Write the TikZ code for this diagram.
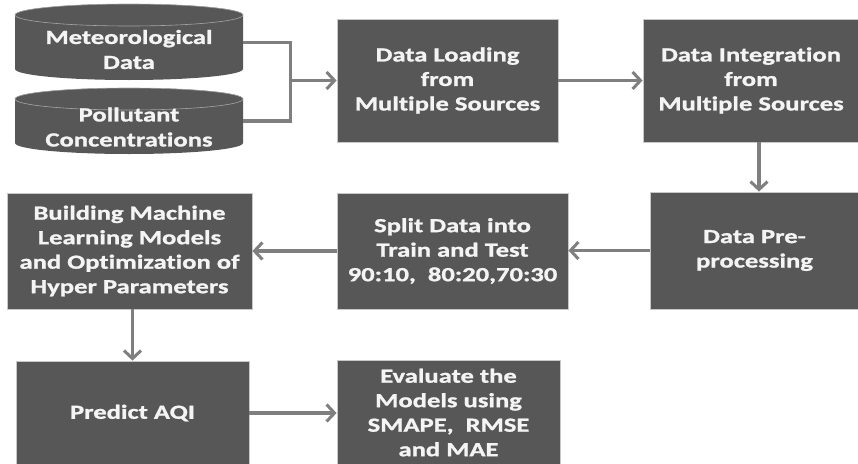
\documentclass[tikz,border=0pt]{standalone}
\usepackage{fontspec}
\usetikzlibrary{arrows.meta}
\newfontfamily\boxfont{Carlito}[FakeStretch=1.33, FakeBold=1.2, Ligatures=NoCommon]
\definecolor{boxfill}{HTML}{575757}
\definecolor{boxedge}{HTML}{C8C8C8}
\definecolor{flow}{HTML}{7F7F7F}
\definecolor{labelwhite}{HTML}{F4F4F4}
\tikzset{
  x=1pt, y=1pt,
  stepbox/.style={draw=boxedge, line width=0.8pt, fill=boxfill, text=labelwhite,
    font=\boxfont\bfseries\fontsize{20}{24.5}\selectfont, align=center, inner sep=0pt},
  cyltext/.style={text=labelwhite, font=\boxfont\bfseries\fontsize{20}{25}\selectfont,
    align=center, inner sep=0pt},
  cylbody/.style={inner sep=0pt, minimum width=228pt, minimum height=75pt},
  flowline/.style={draw=flow, line width=3.2pt},
  flowarrow/.style={flowline, -{Straight Barb[length=8pt,width=17pt,line width=3pt]}},
}
\begin{document}
\begin{tikzpicture}
\useasboundingbox (0,0) rectangle (858,-463);

% database cylinders
\foreach \top/\bot in {15/69, 99/143}{
  \fill[boxfill] (15,-\top) -- (15,-\bot)
    arc[start angle=180, end angle=360, x radius=114, y radius=11]
    -- (243,-\top)
    arc[start angle=0, end angle=180, x radius=114, y radius=11] -- cycle;
  \draw[boxedge!70!boxfill, line width=0.6pt, fill=boxfill] (129,-\top) ellipse[x radius=114, y radius=11];
}
\node[cylbody] (met) at (129,-42.5) {};
\node[cyltext] (metlbl) at ([yshift=-7pt]met.center) {Meteorological\\Data};
\node[cylbody, minimum height=66pt] (pol) at (129,-121) {};
\node[cyltext] (pollbl) at ([yshift=-6pt]pol.center) {Pollutant\\Concentrations};

% process boxes
\node[stepbox, minimum width=221pt, minimum height=123pt] (load) at (447.5,-80.5)
  {Data Loading\\from\\Multiple Sources};
\node[stepbox, minimum width=216pt, minimum height=123pt] (integ) at (751,-80.5)
  {Data Integration\\from\\Multiple Sources};
\node[stepbox, minimum width=209pt, minimum height=117pt] (pre) at (754.5,-250.5)
  {Data Pre-\\processing};
\node[stepbox, minimum width=231pt, minimum height=116pt] (split) at (452.5,-251)
  {Split Data into\\Train and Test\\90:10,\ \ 80:20,70:30};
\node[stepbox, minimum width=245pt, minimum height=116pt] (build) at (129.5,-251)
  {Building Machine\\Learning Models\\and Optimization of\\Hyper Parameters};
\node[stepbox, minimum width=233pt, minimum height=104pt] (predict) at (132.5,-413)
  {Predict AQI};
\node[stepbox, minimum width=223pt, minimum height=105pt] (eval) at (448.5,-412.5)
  {Evaluate the\\Models using\\SMAPE,\ \ RMSE\\and MAE};

% connectors
\coordinate (jn) at ([xshift=47pt]met.east |- load.west);
\draw[flowline] (met.east) -| (jn) |- (pol.east);
\draw[flowarrow] (jn) -- (load.west);
\draw[flowarrow] (load.east) -- (load.east -| integ.west);
\draw[flowarrow] ([xshift=8pt]integ.south) -- ([xshift=8pt]integ.south |- pre.north);
\draw[flowarrow] (pre.west) -- (pre.west -| split.east);
\draw[flowarrow] (split.west) -- (split.west -| build.east);
\draw[flowarrow] (predict.north |- build.south) -- (predict.north);
\draw[flowarrow] (predict.east) -- (predict.east -| eval.west);
\end{tikzpicture}
\end{document}
